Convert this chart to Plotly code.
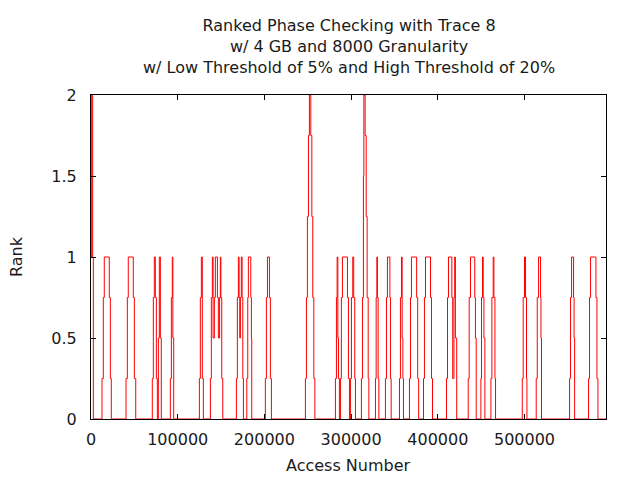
import plotly.graph_objects as go

# Step data (access number, rank)
access = [
    0, 800, 1900, 2700,
    12700, 14200, 15300, 21100, 22300, 23400,
    40400, 41900, 43000, 48800, 50000, 51600,
    70700, 71900, 73000, 74200, 75400, 76500,
    77700, 78800, 80000, 81100,
    91500, 92700, 93800, 94400, 95400,
    125000, 126100, 127300, 128400, 129600,
    137700, 138800, 140000, 140800, 142300, 143400, 145800, 146900, 148300, 149200, 149800, 150800, 152000,
    167700, 168800, 170000, 170800, 171600, 172300, 173400, 174300, 175100, 175800,
    179700, 180800, 181500, 184300, 185000, 185400,
    201100, 202300, 203500, 205800, 206900, 208100,
    247300, 248500, 249600, 250800, 251900, 253500, 254700, 255800, 257000, 258200,
    281900, 283100, 283900, 284700, 285400, 286500, 287700, 288800, 290000, 295800, 296900, 298100,
    299200, 300400, 301900, 303000, 304200, 305000,
    311900, 313100, 314200, 314700, 316200, 317400, 318500, 319700, 320500,
    328100, 328900, 329700, 330400, 331200, 332000,
    339600, 340800, 341900, 344700, 345400, 346200,
    355800, 356900, 358100, 358900, 359700, 360400,
    367300, 368500, 369600, 375600, 376800, 377900,
    383500, 384600, 385800, 391600, 392700, 393900,
    410000, 411200, 412300, 416200, 417200, 418600, 419500, 420300, 421800,
    435100, 436200, 437700, 442600, 443400, 444300,
    449700, 450400, 451600, 452400, 453200, 454300,
    461300, 462400, 463900, 464700, 465900, 466600,
    497400, 498500, 500000, 501200, 502300, 502800,
    513500, 514700, 516200, 518500, 519000, 519600,
    552000, 553100, 554300, 556600, 557200, 557800,
    573900, 575000, 576200, 582400, 583600, 584700,
    594000,
]
rank = [
    1, 2, 1, 0,
    0.25, 0.75, 1, 0.75, 0.25, 0,
    0.25, 0.75, 1, 0.75, 0.25, 0,
    0.25, 0.75, 1, 0.75, 0.25, 0,
    0.5, 1, 0.5, 0,
    0.25, 0.75, 1, 0.5, 0,
    0.25, 0.75, 1, 0.25, 0,
    0.25, 0.75, 1, 0.5, 0.75, 1, 0.75, 0.5, 0.75, 1, 0.75, 0.25, 0,
    0.25, 0.75, 1, 0.75, 0.5, 0.75, 1, 0.75, 0.25, 0,
    0.25, 0.75, 1, 0.75, 0.5, 0,
    0.25, 0.75, 1, 0.75, 0.25, 0,
    0.25, 0.75, 1.25, 1.75, 2, 1.75, 1.25, 0.75, 0.25, 0,
    0.25, 0.75, 1, 0.5, 0.25, 0, 0.25, 0.75, 1, 0.75, 0.25, 0,
    0.25, 0.75, 1, 0.75, 0.25, 0,
    0.25, 0.75, 1.5, 2, 1.75, 1.25, 0.75, 0.25, 0,
    0.25, 0.75, 1, 0.75, 0.25, 0,
    0.25, 0.75, 1, 0.75, 0.25, 0,
    0.25, 0.75, 1, 0.5, 0.25, 0,
    0.25, 0.75, 1, 0.75, 0.25, 0,
    0.25, 0.75, 1, 0.75, 0.25, 0,
    0.25, 0.75, 1, 0.75, 0.25, 0.75, 1, 0.5, 0,
    0.25, 0.75, 1, 0.75, 0.5, 0,
    0.25, 0.75, 1, 0.75, 0.5, 0,
    0.25, 0.75, 1, 0.75, 0.25, 0,
    0.25, 0.75, 1, 0.75, 0.25, 0,
    0.25, 0.75, 1, 0.75, 0.5, 0,
    0.25, 0.75, 1, 0.75, 0.5, 0,
    0.25, 0.75, 1, 0.75, 0.25, 0,
    0,
]

x_ticks = [0, 100000, 200000, 300000, 400000, 500000]
x_tick_labels = ["0", "100000", "200000", "300000", "400000", "500000"]
y_ticks = [0, 0.5, 1, 1.5, 2]
y_tick_labels = ["0", "0.5", "1", "1.5", "2"]

title_lines = [
    "Ranked Phase Checking with Trace 8",
    "w/ 4 GB and 8000 Granularity",
    "w/ Low Threshold of 5% and High Threshold of 20%",
]

FONT = "DejaVu Sans"
FS = 16
TEXT_COLOR = "#1a1a1a"

fig = go.Figure()
fig.add_trace(go.Scatter(
    x=access, y=rank, mode="lines",
    line=dict(color="#ff0000", width=1, shape="hv"),
    showlegend=False, hoverinfo="skip",
))

axis_common = dict(
    showgrid=False, zeroline=False, showline=True, linecolor="black",
    linewidth=1, mirror="ticks", ticks="inside", ticklen=5,
    tickcolor="black", tickwidth=1,
    tickfont=dict(family=FONT, size=FS, color=TEXT_COLOR),
)

# The page body adds an 8px offset, so the figure is 8px smaller on each axis
fig.update_layout(
    width=632, height=472,
    margin=dict(l=83, r=34, t=87, b=61),
    paper_bgcolor="white", plot_bgcolor="white",
    xaxis=dict(range=[0, 594000], tickvals=x_ticks, ticktext=x_tick_labels,
               ticklabelstandoff=6, **axis_common),
    yaxis=dict(range=[0, 2], tickvals=y_ticks, ticktext=y_tick_labels,
               ticklabelstandoff=10, **axis_common),
)

plot_h = 324.0
fig.add_annotation(
    text="<br>".join(title_lines), xref="paper", yref="paper", x=0.5,
    y=(419 - 46) / plot_h, xanchor="center", yanchor="middle", showarrow=False,
    align="center", font=dict(family=FONT, size=FS, color=TEXT_COLOR),
)

fig.add_annotation(
    text="Access Number", xref="paper", yref="paper", x=0.5, y=(419 - 465) / plot_h,
    xanchor="center", yanchor="middle", showarrow=False,
    font=dict(family=FONT, size=FS, color=TEXT_COLOR),
)
fig.add_annotation(
    text="Rank", xref="paper", yref="paper", x=(16 - 91) / 515.0, y=0.5,
    xanchor="center", yanchor="middle", showarrow=False, textangle=-90,
    font=dict(family=FONT, size=FS, color=TEXT_COLOR),
)

fig.write_html("out.html")
